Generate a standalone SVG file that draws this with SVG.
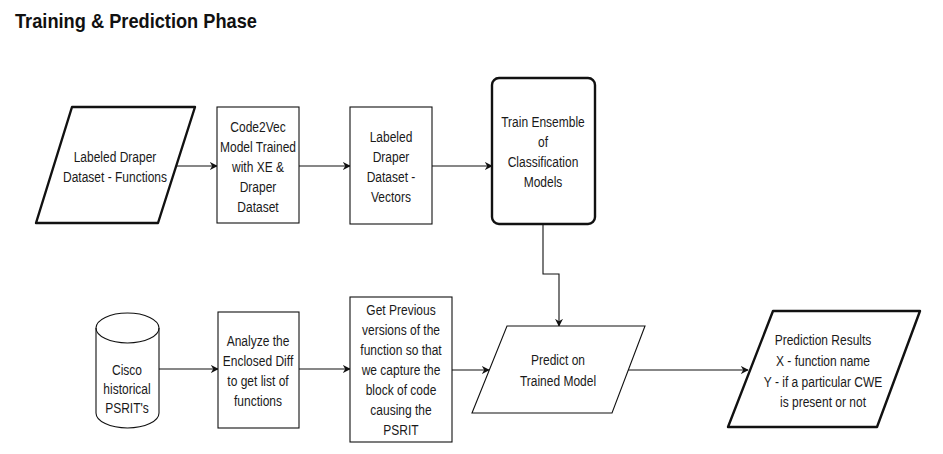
<svg xmlns="http://www.w3.org/2000/svg" width="943" height="454" viewBox="0 0 943 454">
<style>
.t{font-family:"Liberation Sans",Arial,sans-serif;font-size:15px;fill:#1a1a1a;text-anchor:middle}
.title{font-family:"Liberation Sans",Arial,sans-serif;font-size:21px;font-weight:bold;fill:#111}
.thin{fill:#fff;stroke:#111;stroke-width:1.1}
.thick{fill:#fff;stroke:#111;stroke-width:2.4;stroke-linejoin:round}
.edge{fill:none;stroke:#111;stroke-width:1.1}
</style>
<defs>
<marker id="arr" viewBox="0 0 10 10" refX="9" refY="5" markerWidth="8" markerHeight="8" markerUnits="userSpaceOnUse" orient="auto">
<path d="M0,0 L10,5 L0,10 L3,5 Z" fill="#111"/>
</marker>
</defs>
<rect width="943" height="454" fill="#fff"/>
<text class="title" x="15" y="28" textLength="242" lengthAdjust="spacingAndGlyphs">Training &amp; Prediction Phase</text>

<g id="connectors">
<path class="edge" d="M176,166 L217,166" marker-end="url(#arr)"/>
<path class="edge" d="M299,166 L350,166" marker-end="url(#arr)"/>
<path class="edge" d="M432,166 L492,166" marker-end="url(#arr)"/>
<path class="edge" d="M543,224 L543,274 L559,274 L559,326" marker-end="url(#arr)"/>
<path class="edge" d="M159,369 L218,369" marker-end="url(#arr)"/>
<path class="edge" d="M299,369 L350,369" marker-end="url(#arr)"/>
<path class="edge" d="M452,370 L489,370" marker-end="url(#arr)"/>
<path class="edge" d="M628,370 L748,370" marker-end="url(#arr)"/>
</g>

<g id="n1">
<path class="thick" d="M72,107 L195,107 L158,223 L36,223 Z"/>
<g transform="translate(115 0) scale(0.8 1)">
<text class="t" x="0" y="162">Labeled Draper</text>
<text class="t" x="0" y="182">Dataset - Functions</text>
</g>
</g>

<g id="n2">
<rect class="thin" x="217" y="107" width="82" height="116"/>
<g transform="translate(258 0) scale(0.8 1)">
<text class="t" x="0" y="132">Code2Vec</text>
<text class="t" x="0" y="152">Model Trained</text>
<text class="t" x="0" y="172">with XE &amp;</text>
<text class="t" x="0" y="192">Draper</text>
<text class="t" x="0" y="212">Dataset</text>
</g>
</g>

<g id="n3">
<rect class="thin" x="350" y="107" width="82" height="117"/>
<g transform="translate(391 0) scale(0.8 1)">
<text class="t" x="0" y="142">Labeled</text>
<text class="t" x="0" y="162">Draper</text>
<text class="t" x="0" y="182">Dataset -</text>
<text class="t" x="0" y="202">Vectors</text>
</g>
</g>

<g id="n4">
<rect class="thick" x="492" y="78" width="103" height="146" rx="7" ry="7"/>
<g transform="translate(543 0) scale(0.8 1)">
<text class="t" x="0" y="127">Train Ensemble</text>
<text class="t" x="0" y="147">of</text>
<text class="t" x="0" y="167">Classification</text>
<text class="t" x="0" y="187">Models</text>
</g>
</g>

<g id="n5">
<path class="thin" d="M96,328 A31.5,15 0 0 1 159,328 L159,413 A31.5,15 0 0 1 96,413 Z"/>
<path class="edge" d="M96,328 A31.5,15 0 0 0 159,328"/>
<g transform="translate(127 0) scale(0.8 1)">
<text class="t" x="0" y="375">Cisco</text>
<text class="t" x="0" y="394">historical</text>
<text class="t" x="0" y="413">PSRIT's</text>
</g>
</g>

<g id="n6">
<rect class="thin" x="218" y="312" width="81" height="116"/>
<g transform="translate(258 0) scale(0.8 1)">
<text class="t" x="0" y="346">Analyze the</text>
<text class="t" x="0" y="366">Enclosed Diff</text>
<text class="t" x="0" y="386">to get list of</text>
<text class="t" x="0" y="406">functions</text>
</g>
</g>

<g id="n7">
<rect class="thin" x="350" y="297" width="102" height="145"/>
<g transform="translate(401 0) scale(0.8 1)">
<text class="t" x="0" y="315">Get Previous</text>
<text class="t" x="0" y="335">versions of the</text>
<text class="t" x="0" y="355">function so that</text>
<text class="t" x="0" y="375">we capture the</text>
<text class="t" x="0" y="395">block of code</text>
<text class="t" x="0" y="415">causing the</text>
<text class="t" x="0" y="435">PSRIT</text>
</g>
</g>

<g id="n8">
<path class="thin" d="M507,326 L645,326 L612,413 L472,413 Z"/>
<g transform="translate(558 0) scale(0.8 1)">
<text class="t" x="0" y="365">Predict on</text>
<text class="t" x="0" y="386">Trained Model</text>
</g>
</g>

<g id="n9">
<path class="thick" d="M773,311 L920,311 L877,427 L728,427 Z"/>
<g transform="translate(823 0) scale(0.8 1)">
<text class="t" x="0" y="345">Prediction Results</text>
<text class="t" x="0" y="366">X - function name</text>
<text class="t" x="0" y="387">Y - if a particular CWE</text>
<text class="t" x="0" y="407">is present or not</text>
</g>
</g>
</svg>
